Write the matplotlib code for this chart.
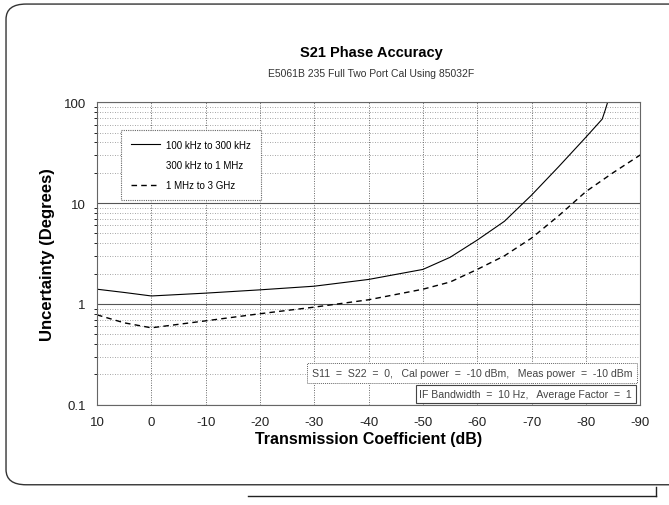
import numpy as np
import matplotlib.pyplot as plt
from matplotlib.lines import Line2D
from matplotlib.patches import FancyBboxPatch

plt.rcParams['font.family'] = ['Liberation Sans', 'DejaVu Sans']

# S21 phase uncertainty
db_low = [10, 5, 0, -10, -20, -30, -40, -50, -55, -60, -65, -70, -75, -80, -83, -83.6, -84]
deg_low = [1.4, 1.3, 1.2, 1.28, 1.38, 1.5, 1.75, 2.2, 2.9, 4.3, 6.6, 12, 23, 45, 68, 85, 100]

db_high = [10, 5, 0, -10, -20, -30, -40, -50, -55, -60, -65, -70, -75, -80, -85, -90]
deg_high = [0.78, 0.65, 0.58, 0.68, 0.8, 0.93, 1.1, 1.4, 1.65, 2.2, 3.0, 4.5, 7.5, 13, 20, 30]

x_ticks = [10, 0, -10, -20, -30, -40, -50, -60, -70, -80, -90]
y_ticks = [0.1, 1, 10, 100]
y_labels = ["0.1", "1", "10", "100"]

fig = plt.figure(figsize=(6.69, 5.06), dpi=100)
ax = fig.add_axes([0.145, 0.198, 0.812, 0.598])

# rounded frame of the scanned page
frame = FancyBboxPatch((0.009, 0.04), 1.2, 0.95, boxstyle="round,pad=0,rounding_size=0.03",
                       transform=fig.transFigure, fill=False, edgecolor="#333333", lw=1.0)
fig.patches.append(frame)
fig.add_artist(Line2D([0.37, 0.98], [0.018, 0.018], color="#222222", lw=1.0, transform=fig.transFigure))
fig.add_artist(Line2D([0.98, 0.98], [0.018, 0.035], color="#222222", lw=1.0, transform=fig.transFigure))

ax.plot(db_low, deg_low, color="black", lw=0.8, label="100 kHz to 300 kHz")
ax.plot(db_high, deg_high, color="black", lw=1.0, ls=(0, (4, 3)), label="1 MHz to 3 GHz")

ax.set_yscale("log")
ax.set_xlim(10, -90)
ax.set_ylim(0.1, 100)
ax.set_xticks(x_ticks)
ax.set_xticklabels([str(v) for v in x_ticks])
ax.set_yticks(y_ticks)
ax.set_yticklabels(y_labels)
ax.tick_params(length=0, labelsize=9.5, pad=8, colors="#222222")
ax.grid(True, which="major", color="#555555", lw=0.8)
ax.grid(True, which="minor", color="#888888", lw=0.6, ls=(0, (1, 2)))
ax.xaxis.grid(True, which="major", color="#666666", lw=0.7, ls=(0, (1, 1.5)))
for s in ax.spines.values():
    s.set_color("#666666")
    s.set_linewidth(0.8)
    s.set_linestyle((0, (1, 1)))

fig.text(0.555, 0.888, "S21 Phase Accuracy", ha="center", fontsize=10.5, fontweight="bold")
fig.text(0.555, 0.848, "E5061B 235 Full Two Port Cal Using 85032F", ha="center", fontsize=7.5, color="#333333")
ax.set_xlabel("Transmission Coefficient (dB)", fontsize=11.5, fontweight="bold", labelpad=2)
ax.set_ylabel("Uncertainty (Degrees)", fontsize=12, fontweight="bold", labelpad=6)

handles = [Line2D([], [], color="black", lw=0.8),
           Line2D([], [], color="none"),
           Line2D([], [], color="black", lw=1.0, ls=(0, (4, 3)))]
labels = ["100 kHz to 300 kHz", "300 kHz to 1 MHz", "1 MHz to 3 GHz"]
leg = ax.legend(handles, labels, loc="upper left", bbox_to_anchor=(0.036, 0.925), fontsize=7,
                handlelength=3.0, labelspacing=1.05, borderpad=1.0, handletextpad=0.6,
                fancybox=False, framealpha=1)
leg.get_frame().set_edgecolor("#666666")
leg.get_frame().set_linestyle((0, (1, 1)))
leg.get_frame().set_linewidth(0.8)

ax.text(0.985, 0.105, "S11  =  S22  =  0,   Cal power  =  -10 dBm,   Meas power  =  -10 dBm",
        transform=ax.transAxes, ha="right", va="center", fontsize=7.6, color="#444444",
        bbox=dict(boxstyle="square,pad=0.45", fc="white", ec="#666666", lw=0.7, ls=(0, (1, 1))))
ax.text(0.985, 0.036, "IF Bandwidth  =  10 Hz,   Average Factor  =  1", transform=ax.transAxes,
        ha="right", va="center", fontsize=7.6, color="#444444",
        bbox=dict(boxstyle="square,pad=0.35", fc="white", ec="#444444", lw=0.8))

fig.savefig("out.png", dpi=100)
